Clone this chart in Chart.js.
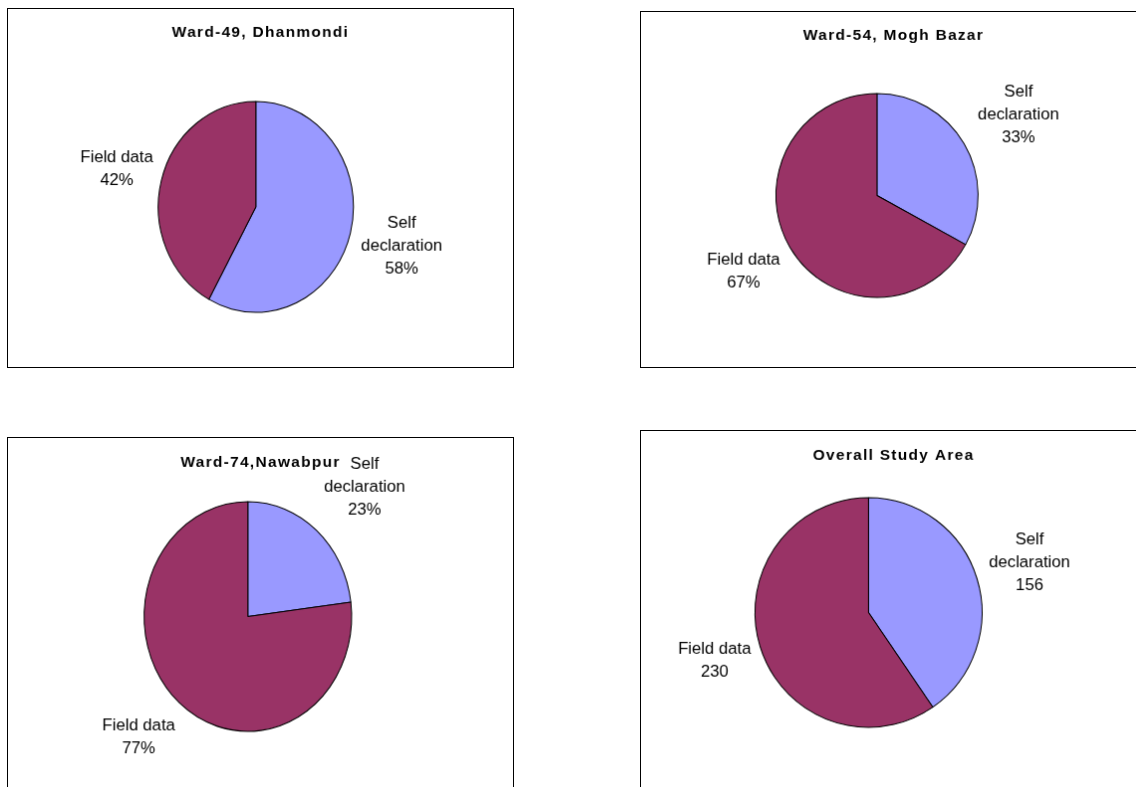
<!DOCTYPE html>
<html>
<head>
<meta charset="utf-8">
<script src="https://cdn.jsdelivr.net/npm/chart.js@4"></script>
<style>
  body { margin: 0; background: #fff; }
  canvas { position: absolute; border: 1px solid #000; background: #fff; }
</style>
</head>
<body>
<canvas id="c1" width="507" height="360" style="left:7px;top:8px"></canvas>
<canvas id="c2" width="507" height="357" style="left:640px;top:11px"></canvas>
<canvas id="c3" width="507" height="360" style="left:7px;top:437px"></canvas>
<canvas id="c4" width="507" height="360" style="left:640px;top:430px"></canvas>
<script>
// categories and values for each area
const categories = [['Self', 'declaration'], ['Field data']];
const titles = ['Ward-49, Dhanmondi', 'Ward-54, Mogh Bazar', 'Ward-74,Nawabpur', 'Overall Study Area'];
const ward49 = [58, 42];
const ward54 = [33, 67];
const ward74 = [23, 77];
const overall = [156, 230];
const sliceColors = ['#9999FF', '#993366'];

const LABEL_FONT = '16.7px "Liberation Sans", Arial, sans-serif';
const TITLE_FONT = 'bold 15.5px "Liberation Sans", Arial, sans-serif';
const LINE_H = 23;

// squashes the pie vertically and writes the outside labels + title
const pieLabels = {
  id: 'pieLabels',
  beforeDatasetsDraw(chart, args, opts) {
    const arc = chart.getDatasetMeta(0).data[0];
    const ctx = chart.ctx;
    ctx.save();
    ctx.translate(arc.x, arc.y);
    ctx.scale(1, opts.squash);
    ctx.translate(-arc.x, -arc.y);
  },
  afterDatasetsDraw(chart, args, opts) {
    const ctx = chart.ctx;
    ctx.restore();

    const meta = chart.getDatasetMeta(0);
    const values = chart.data.datasets[0].data;
    const total = values.reduce((a, b) => a + b, 0);

    ctx.save();
    ctx.fillStyle = '#000';
    ctx.textAlign = 'center';
    ctx.textBaseline = 'middle';
    ctx.font = LABEL_FONT;
    meta.data.forEach((arc, i) => {
      const lines = [].concat(chart.data.labels[i]);
      lines.push(opts.percent ? Math.round(values[i] / total * 100) + '%' : String(values[i]));
      const mid = (arc.startAngle + arc.endAngle) / 2;
      const cos = Math.cos(mid), sin = Math.sin(mid);
      const halfW = Math.max(...lines.map(l => ctx.measureText(l).width)) / 2;
      const halfH = lines.length * LINE_H / 2;
      const ex = arc.x + arc.outerRadius * cos;
      const ey = arc.y + arc.outerRadius * opts.squash * sin;
      const d = 5 + Math.abs(cos) * halfW + Math.abs(sin) * halfH;
      const lx = ex + d * cos + Math.sign(cos) * opts.spreadX;
      const ly = ey + d * sin;
      lines.forEach((l, k) => ctx.fillText(l, lx, ly - halfH + LINE_H * (k + 0.5)));
    });

    ctx.font = TITLE_FONT;
    ctx.letterSpacing = '1.3px';
    ctx.fillText(opts.title, chart.width / 2, opts.titleY);
    ctx.restore();
  }
};

function makePie(id, title, values, percent, cx, cy, rx, ry, titleY, spreadX) {
  const canvas = document.getElementById(id);
  const W = canvas.width, H = canvas.height, s = 40;
  return new Chart(canvas, {
    type: 'pie',
    data: {
      labels: categories,
      datasets: [{
        data: values,
        backgroundColor: sliceColors,
        borderColor: '#000',
        borderWidth: 1
      }]
    },
    options: {
      responsive: false,
      animation: false,
      radius: rx,
      layout: {
        padding: { left: cx - s, right: W - cx - s, top: cy - s, bottom: H - cy - s }
      },
      plugins: {
        legend: { display: false },
        tooltip: { enabled: false },
        pieLabels: { title: title, percent: percent, squash: ry / rx, titleY: titleY, spreadX: spreadX }
      }
    },
    plugins: [pieLabels]
  });
}

makePie('c1', titles[0], ward49, true, 248.8, 199, 98, 106, 23.5, 0);
makePie('c2', titles[1], ward54, true, 236.9, 184.5, 101.5, 102.5, 23.5, 5);
makePie('c3', titles[2], ward74, true, 240.8, 179.5, 104.2, 115.5, 24.5, 10);
makePie('c4', titles[3], overall, false, 228.4, 182.5, 114, 115.5, 24.5, 1);
</script>
</body>
</html>
